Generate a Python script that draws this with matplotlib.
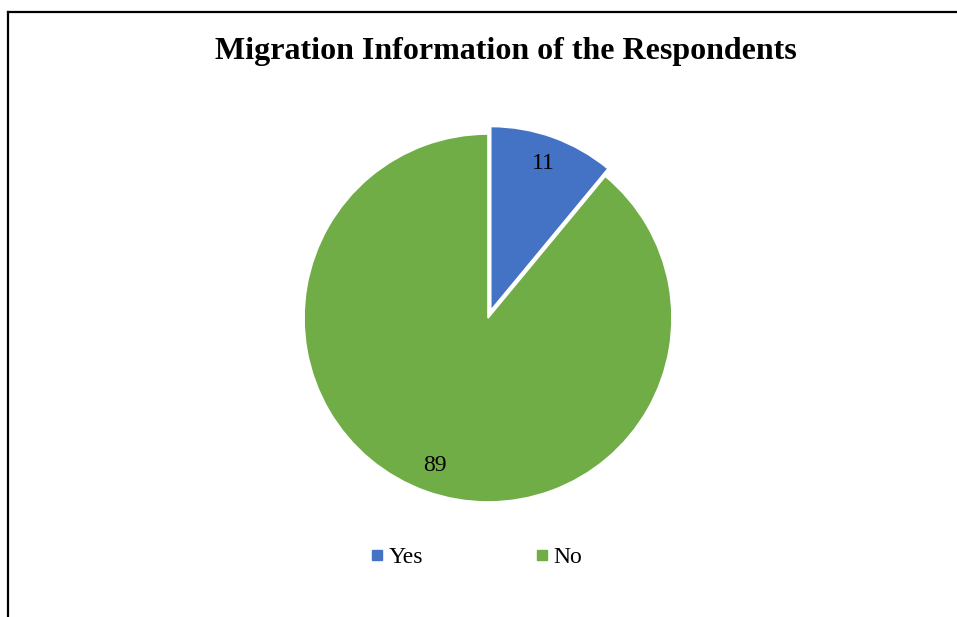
import matplotlib.pyplot as plt
from matplotlib.lines import Line2D

plt.rcParams['font.family'] = ['Liberation Serif', 'DejaVu Serif']

categories = ['Yes', 'No']
values = [11, 89]
colors = ['#4472C4', '#70AD47']
title = 'Migration Information of the Respondents'

W, H = 957, 617
fig = plt.figure(figsize=(W / 100, H / 100), dpi=100)
ax = fig.add_axes([0, 0, 1, 1])

# pie in pixel units, slice for "Yes" pulled out a little
r = 184
wedges, texts = ax.pie(values, labels=[str(v) for v in values], colors=colors,
                       startangle=90, counterclock=False, radius=r,
                       center=(488, H - 318), explode=[8, 0],
                       labeldistance=0.85, frame=True,
                       wedgeprops=dict(edgecolor='white', linewidth=1.2),
                       textprops=dict(fontsize=17, color='black'))
for t in texts:
    t.set_horizontalalignment('center')
    t.set_verticalalignment('center')
ax.set_xlim(0, W)
ax.set_ylim(0, H)
ax.set_aspect('equal')
ax.axis('off')

fig.text(506 / W, 1 - 51 / H, title, ha='center', va='center',
         fontsize=23, fontweight='bold')

handles = [Line2D([], [], marker='s', linestyle='none', markersize=6.5,
                  markerfacecolor=c, markeredgecolor=c) for c in colors]
fig.legend(handles, categories, loc='center', bbox_to_anchor=(475 / W, 1 - 557 / H),
           ncol=2, frameon=False, fontsize=17, handletextpad=0.1,
           columnspacing=4.6, handlelength=0.8)

# partial border around the chart area
fig.add_artist(Line2D([8 / W, 1], [1 - 11.5 / H, 1 - 11.5 / H], color='black', lw=1.6))
fig.add_artist(Line2D([8 / W, 8 / W], [0, 1 - 11.5 / H], color='black', lw=1.6))

fig.savefig('out.png', dpi=100, facecolor='white')
